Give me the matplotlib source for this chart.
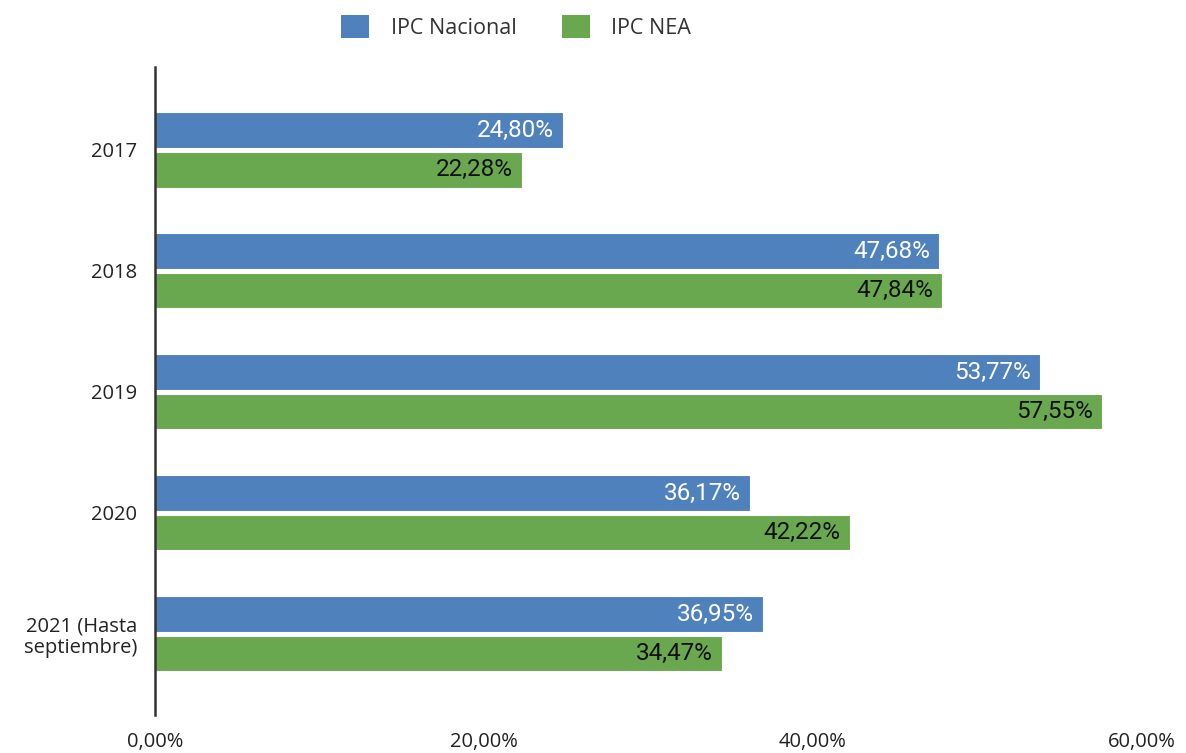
import matplotlib
matplotlib.use("Agg")
import matplotlib.pyplot as plt
import numpy as np
from matplotlib.patches import Patch

categories = ["2017", "2018", "2019", "2020", "2021 (Hasta\nseptiembre)"]
ipc_nacional = [24.80, 47.68, 53.77, 36.17, 36.95]
ipc_nea = [22.28, 47.84, 57.55, 42.22, 34.47]
xticks = [0, 20, 40, 60]
xtick_labels = ["0,00%", "20,00%", "40,00%", "60,00%"]

blue = "#4f81bd"
green = "#6aa84f"

W, H = 1186, 753
fig = plt.figure(figsize=(W / 100, H / 100), dpi=100)
ax = fig.add_axes([155 / W, 1 - 715 / H, (1142 - 155) / W, (715 - 67) / H])

y = np.arange(len(categories))
h = 0.29
off = 0.165
b1 = ax.barh(y - off, ipc_nacional, height=h, color=blue, edgecolor="white", linewidth=0.8)
b2 = ax.barh(y + off, ipc_nea, height=h, color=green, edgecolor="white", linewidth=0.8)

for rect, v in zip(b1, ipc_nacional):
    ax.text(v - 0.55, rect.get_y() + rect.get_height() / 2, f"{v:.2f}%".replace(".", ","),
            ha="right", va="center", color="white", fontsize=17.5, family="Roboto")
for rect, v in zip(b2, ipc_nea):
    ax.text(v - 0.55, rect.get_y() + rect.get_height() / 2, f"{v:.2f}%".replace(".", ","),
            ha="right", va="center", color="#111111", fontsize=17.5, family="Roboto")

ax.set_xlim(0, 60)
ax.set_ylim(4.67, -0.686)
ax.set_yticks(y)
ax.set_yticklabels(categories, family="Open Sans", fontsize=14.5, color="#222222", ha="right",
                   linespacing=1.1)
ax.set_xticks(xticks)
ax.set_xticklabels(xtick_labels, family="Open Sans", fontsize=14.5, color="#222222")
ax.tick_params(axis="both", length=0)
ax.tick_params(axis="x", pad=12)
ax.tick_params(axis="y", pad=13)
for s in ["top", "right", "bottom"]:
    ax.spines[s].set_visible(False)
ax.spines["left"].set_color("#333333")
ax.spines["left"].set_linewidth(1.8)

handles = [Patch(facecolor=blue, label="IPC Nacional"), Patch(facecolor=green, label="IPC NEA")]
fig.legend(handles=handles, loc="center", bbox_to_anchor=(516 / W, 1 - 27 / H), ncol=2,
           frameon=False, prop={"family": "Open Sans", "size": 15.5}, handlelength=1.3,
           handleheight=1.3, handletextpad=1.0, columnspacing=2.1, labelcolor="#333333")

fig.savefig("out.png", dpi=100)
